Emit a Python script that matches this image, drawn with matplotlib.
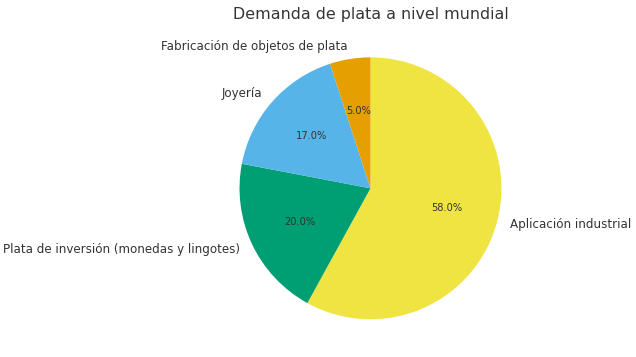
import matplotlib.pyplot as plt

# Data
labels = ['Aplicación industrial', 'Plata de inversión (monedas y lingotes)',
          'Joyería', 'Fabricación de objetos de plata']
shares = [58, 20, 17, 5]
colors = ['#F0E442', '#009E73', '#56B4E9', '#E69F00']

fig = plt.figure(figsize=(6.36, 3.57), dpi=100)
ax = fig.add_axes([0.325, 0.014, 0.515, 0.917])

wedges, texts, autotexts = ax.pie(shares, labels=labels, colors=colors,
                                  autopct='%1.1f%%', startangle=90,
                                  counterclock=False,
                                  textprops={'color': '#333333', 'fontsize': 8.6})
for t in autotexts:
    t.set_fontsize(7.1)

ax.set_xlim(-1.25, 1.25)
ax.set_ylim(-1.25, 1.25)
ax.set_aspect('equal')
ax.set_title('Demanda de plata a nivel mundial', fontsize=11.4, color='#333333', pad=4)

fig.savefig('out.png', dpi=100)
